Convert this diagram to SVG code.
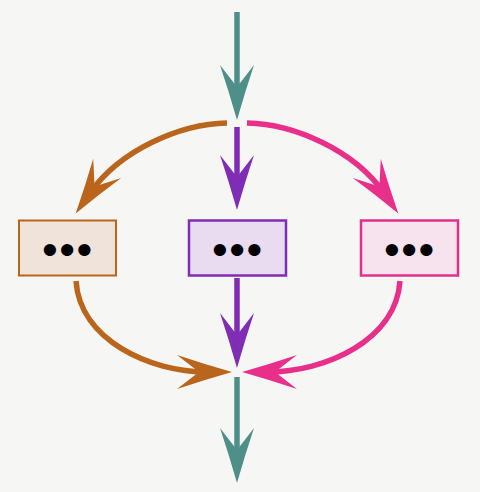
<svg xmlns="http://www.w3.org/2000/svg" width="480" height="492" viewBox="0 0 480 492">
<style>
.dots{font-family:"Liberation Sans",Arial,sans-serif;font-size:45px;fill:#000;text-anchor:middle;letter-spacing:1.5px}
.ln{fill:none;stroke-width:5.5;stroke-linecap:butt}
</style>
<defs>
<path id="head" d="M25,0 Q-3,-8 -30,-17 L-8,0 L-30,17 Q-3,8 25,0Z"/>
<marker id="hTeal" markerUnits="userSpaceOnUse" orient="auto" markerWidth="80" markerHeight="60" refX="0" refY="0" viewBox="-40 -30 80 60" overflow="visible"><use href="#head" fill="#4e9089"/></marker>
<marker id="hOrange" markerUnits="userSpaceOnUse" orient="auto" markerWidth="80" markerHeight="60" refX="0" refY="0" viewBox="-40 -30 80 60" overflow="visible"><use href="#head" fill="#b9651c"/></marker>
<marker id="hPurple" markerUnits="userSpaceOnUse" orient="auto" markerWidth="80" markerHeight="60" refX="0" refY="0" viewBox="-40 -30 80 60" overflow="visible"><use href="#head" fill="#7f2db5"/></marker>
<marker id="hPink" markerUnits="userSpaceOnUse" orient="auto" markerWidth="80" markerHeight="60" refX="0" refY="0" viewBox="-40 -30 80 60" overflow="visible"><use href="#head" fill="#e8308a"/></marker>
</defs>
<rect width="480" height="492" fill="#f6f6f4"/>
<g id="connectors">
<path class="ln" d="M237,12 L237,95" stroke="#4e9089" marker-end="url(#hTeal)"/>
<path class="ln" d="M227,123 C180,124 120,150 90,193" stroke="#b9651c" marker-end="url(#hOrange)"/>
<path class="ln" d="M237,127 L237,185" stroke="#7f2db5" marker-end="url(#hPurple)"/>
<path class="ln" d="M247,123 C294,124 354,150 384,193" stroke="#e8308a" marker-end="url(#hPink)"/>
<path class="ln" d="M76,281 C80,340 150,372 207,372" stroke="#b9651c" marker-end="url(#hOrange)"/>
<path class="ln" d="M237,278 L237,343" stroke="#7f2db5" marker-end="url(#hPurple)"/>
<path class="ln" d="M400,281 C396,340 326,372 267,372" stroke="#e8308a" marker-end="url(#hPink)"/>
<path class="ln" d="M237,377 L237,458" stroke="#4e9089" marker-end="url(#hTeal)"/>
</g>
<g id="node-left">
<rect x="19" y="220.5" width="97" height="55" fill="#f0e4da" stroke="#b9651c" stroke-width="2"/>
<text class="dots" x="68" y="265">•••</text>
</g>
<g id="node-middle">
<rect x="189" y="220.5" width="97" height="55" fill="#eadcf0" stroke="#7f2db5" stroke-width="2.5"/>
<text class="dots" x="238" y="265">•••</text>
</g>
<g id="node-right">
<rect x="361" y="220.5" width="97" height="55" fill="#f7e3ee" stroke="#e0308a" stroke-width="2.5"/>
<text class="dots" x="410" y="265">•••</text>
</g>
</svg>
